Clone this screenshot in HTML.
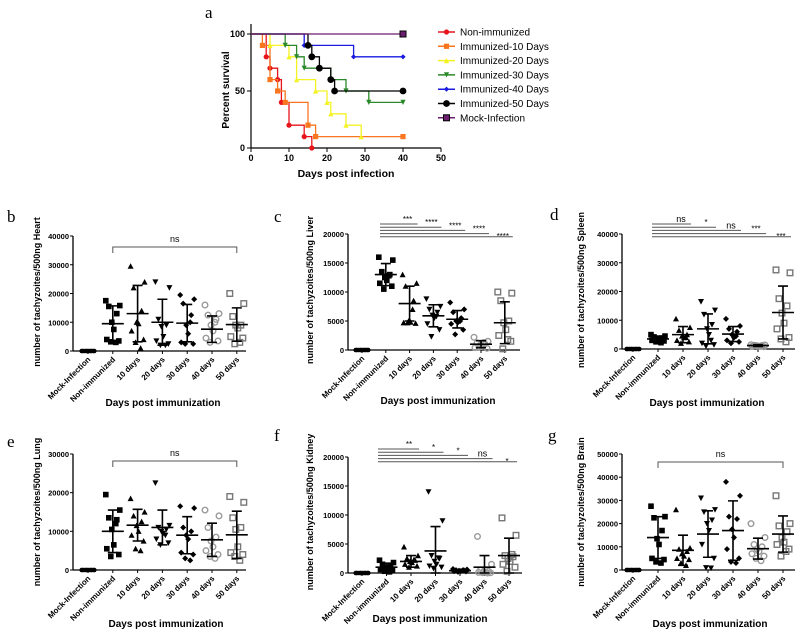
<!DOCTYPE html>
<html><head><meta charset="utf-8"><style>
body{margin:0;background:#fff}
svg{display:block;font-family:"Liberation Sans",sans-serif}
</style></head><body>
<svg id="fig" width="800" height="634" viewBox="0 0 800 634" xmlns="http://www.w3.org/2000/svg"></svg>
<script>
// ---------- Survival data (panel a) ----------
const survNames = ["Non-immunized","Immunized-10 Days","Immunized-20 Days","Immunized-30 Days","Immunized-40 Days","Immunized-50 Days","Mock-Infection"];
const survColors = ["#e8141b","#f7761f","#f5f224","#2a8a2a","#1a1ae0","#000000","#6b1f6e"];
const survDays = [
 [0,4,5,7,8,10,14,16],
 [0,3,5,7,9,15,17,40],
 [0,5,10,12,17,20,21,25,29],
 [0,9,12,14,21,25,31,40],
 [0,14,27,40],
 [0,15,16,18,21,22,40],
 [0,40]
];
const survPct = [
 [100,80,70,60,40,20,10,0],
 [100,90,60,50,40,20,10,10],
 [100,90,80,60,50,40,30,20,10],
 [100,90,80,70,60,50,40,40],
 [100,90,80,80],
 [100,90,80,70,60,50,50],
 [100,100]
];
const survXTicks = [0,10,20,30,40,50];
const survYTicks = [0,50,100];

// ---------- Scatter panels data ----------
const categories = ["Mock-Infection","Non-immunized","10 days","20 days","30 days","40 days","50 days"];
const heartMeans = [0,9500,13000,10000,9700,7600,9200];
const heartSds = [0,6200,9800,8000,6500,4600,5800];
const heartPts = [
 [0,0,0,0,0,0,0,0,0,0],
 [17500,15800,15500,13000,10000,7500,4000,3500,3200,3000],
 [29500,24000,22000,14000,10000,9500,7000,4000,3000,1000],
 [24000,22000,11000,9000,8500,5000,3500,2500,2000,2000],
 [19500,18000,16500,12500,9000,6000,3000,2500,2500,10000],
 [16000,13000,12500,11000,9000,7000,4500,3500,3000,10000],
 [20000,16500,12000,9000,9000,8000,5000,4500,2500,3000]];
const liverMeans = [0,13000,8000,5900,5300,1000,4700];
const liverSds = [0,1900,3000,1900,1500,600,3600];
const liverPts = [
 [0,0,0,0,0,0,0,0,0,0],
 [16000,15500,13500,13000,12500,12000,11500,11000,10500,12800],
 [13000,11500,11000,8500,5000,4800,4700,4600,4700,7000],
 [8800,7500,7000,6500,6000,5500,4500,3500,2300,5800],
 [8200,7000,6500,5500,5000,4800,4500,3500,2700,5000],
 [2200,1500,1200,1000,800,600,400,300,500,1300],
 [10000,9800,8500,5000,4700,3500,2500,1500,200,1800]];
const spleenMeans = [0,3500,5000,7000,5200,1200,12700];
const spleenSds = [0,1000,2800,5200,2600,300,9200];
const spleenPts = [
 [0,0,0,0,0,0,0,0,0,0],
 [5000,4500,4200,3800,3500,3200,3000,2800,2500,2200],
 [10500,7500,6500,5000,4500,4000,3000,2500,2000,4000],
 [16500,13500,12000,8500,7000,5000,2000,1500,1000,3000],
 [10500,8000,7000,6000,5000,4000,3000,2500,2000,4500],
 [1500,1400,1300,1200,1100,1000,900,800,1200,1000],
 [27500,26500,17500,15000,12500,9000,7000,4000,3500,2500]];
const lungMeans = [0,10000,11600,11000,9000,7800,9100];
const lungSds = [0,5500,4100,4500,4800,4300,6100];
const lungPts = [
 [0,0,0,0,0,0,0,0,0,0],
 [19500,15500,13500,13000,10500,6500,5500,4000,3500,12000],
 [18500,15000,14000,12500,11500,10000,9000,7500,5500,5000],
 [22500,11500,11000,10500,10000,9500,8000,7000,6500,9000],
 [16500,16000,11000,10000,9000,8000,4500,4000,3000,2500],
 [15500,14000,11000,8500,7500,6000,5000,4000,3500,3000],
 [19000,17500,13500,11000,10500,6000,4500,4000,3500,2500]];
const kidneyMeans = [0,1000,2000,3800,400,1000,3000];
const kidneySds = [0,700,1000,4200,200,2000,3000];
const kidneyPts = [
 [0,0,0,0,0,0,0,0,0,0],
 [2200,1800,1500,1200,1000,800,600,400,300,200],
 [4500,3000,2500,2200,2000,1800,1500,1200,1000,2300],
 [14000,9000,3000,2500,2000,1500,1200,1000,800,2600],
 [700,600,500,450,400,350,300,250,200,500],
 [6300,1500,500,300,200,100,100,50,50,0],
 [9500,6500,3000,2800,2500,2000,1500,1000,300,3200]];
const brainMeans = [0,14000,8500,15500,17000,9200,15500];
const brainSds = [0,9000,6500,10000,12800,4500,7800];
const brainPts = [
 [0,0,0,0,0,0,0,0,0,0],
 [27500,23000,22500,17000,13500,11000,5000,4500,3500,3000],
 [26000,9500,9000,8000,7000,6000,5000,4500,3000,2000],
 [31000,26000,25000,21500,20000,17000,11000,5000,1000,800],
 [38000,32000,23000,22000,17500,14000,9000,5000,3500,3000],
 [20000,14000,11000,10000,9000,8000,7000,6000,5000,4000],
 [32000,20000,19000,16500,14000,12000,11000,9000,6000,8000]];
const liverSig = ["***","****","****","****","****"];
const spleenSig = ["ns","*","ns","***","***"];
const kidneySig = ["**","*","*","ns","*"];

const NS="http://www.w3.org/2000/svg";
const svg=document.getElementById('fig');
function mk(tag,attrs,parent,text){const e=document.createElementNS(NS,tag);for(const k in attrs)e.setAttribute(k,attrs[k]);if(text!==undefined)e.textContent=text;(parent||svg).appendChild(e);return e;}

// ---------- Panel a ----------
(function(){
 const g=mk('g',{});
 
 
 const x0=251,x1=441,yT=34,yB=148;
 const sx=d=>x0+(d-0)/50*(x1-x0), sy=p=>yB-(p/100)*(yB-yT);
 const lt=mk('text',{x:205,y:18,'font-size':17,'font-family':'Liberation Serif,serif'},g,'a');
 
 mk('line',{x1:x0,y1:24,x2:x0,y2:yB,stroke:'#000','stroke-width':1.2},g);
 mk('line',{x1:x0,y1:yB,x2:x1,y2:yB,stroke:'#000','stroke-width':1.2},g);
 survXTicks.forEach(t=>{mk('line',{x1:sx(t),y1:yB,x2:sx(t),y2:yB+4,stroke:'#000'},g);
  const tt=mk('text',{x:sx(t),y:yB+13,'font-size':9,'font-weight':'bold','text-anchor':'middle'},g,t);
  });
 survYTicks.forEach(t=>{mk('line',{x1:x0-4,y1:sy(t),x2:x0,y2:sy(t),stroke:'#000'},g);
  const tt=mk('text',{x:x0-6,y:sy(t)+3,'font-size':9,'font-weight':'bold','text-anchor':'end'},g,t);
  });
 const yt=mk('text',{x:0,y:0,'font-size':10,'font-weight':'bold','text-anchor':'middle',transform:'translate(229,90) rotate(-90)'},g,'Percent survival');
 
 const xt=mk('text',{x:346,y:177,'font-size':10.5,'font-weight':'bold','text-anchor':'middle'},g,'Days post infection');
 
 survNames.forEach((n,i)=>{
  const d=survDays[i],p=survPct[i];let path='M'+sx(d[0])+','+sy(p[0]);
  for(let k=1;k<d.length;k++){path+=' H'+sx(d[k])+' V'+sy(p[k]);}
  const pl=mk('path',{d:path,fill:'none',stroke:survColors[i],'stroke-width':1.3},g);
  
  for(let k=1;k<d.length;k++)marker(g,i,sx(d[k]),sy(p[k]),2.6);
  const ly=32+i*14.3;
  mk('line',{x1:438,y1:ly,x2:455,y2:ly,stroke:survColors[i],'stroke-width':1.5},g);
  marker(g,i,446.5,ly,2.6);
  const lt2=mk('text',{x:460,y:ly+3.5,'font-size':10},g,n);
  
 });
 function marker(g,i,x,y,r){const c=survColors[i];let e;
  if(i==0||i==5)e=mk('circle',{cx:x,cy:y,r:i==5?3.4:r,fill:c},g);
  else if(i==1)e=mk('rect',{x:x-r,y:y-r,width:2*r,height:2*r,fill:c},g);
  else if(i==2)e=mk('path',{d:`M${x-r},${y+r}L${x+r},${y+r}L${x},${y-r}Z`,fill:c},g);
  else if(i==3)e=mk('path',{d:`M${x-r},${y-r}L${x+r},${y-r}L${x},${y+r}Z`,fill:c},g);
  else if(i==4)e=mk('path',{d:`M${x},${y-r}L${x+r},${y}L${x},${y+r}L${x-r},${y}Z`,fill:c},g);
  else e=mk('rect',{x:x-3,y:y-3,width:6,height:6,fill:'#6b1f6e',stroke:'#000','stroke-width':1},g);
  }
})();

// ---------- scatter panels ----------
const jitter=[-7,7,-4,4,-1,1,-6,6,-2,3];
function panel(cfg){
 const g=mk('g',{});
 
 
 const {ax,top,bot,max,step,c0,dc,xend}=cfg;
 const sy=v=>bot-(v/max)*(bot-top), sx=i=>c0+i*dc;
 const lt=mk('text',{x:cfg.lx,y:cfg.ly,'font-size':17,'font-family':'Liberation Serif,serif'},g,cfg.letter);
 
 mk('line',{x1:ax,y1:top,x2:ax,y2:bot,stroke:'#000','stroke-width':1.3},g);
 mk('line',{x1:ax,y1:bot,x2:xend,y2:bot,stroke:'#000','stroke-width':1.3},g);
 for(let v=0;v<=max;v+=step){
  mk('line',{x1:ax-3,y1:sy(v),x2:ax,y2:sy(v),stroke:'#000'},g);
  const t=mk('text',{x:ax-4,y:sy(v)+3,'font-size':7.5,'font-weight':'bold','text-anchor':'end'},g,v);
  
 }
 categories.forEach((c,i)=>{
  mk('line',{x1:sx(i),y1:bot,x2:sx(i),y2:bot+3,stroke:'#000'},g);
  const t=mk('text',{x:0,y:0,'font-size':8,'font-weight':'bold','text-anchor':'end',transform:`translate(${sx(i)+3},${bot+9}) rotate(-45)`},g,c);
  
 });
 const yt=mk('text',{x:0,y:0,'font-size':9,'font-weight':'bold','text-anchor':'middle',transform:`translate(${cfg.ylx},${cfg.yly}) rotate(-90)`},g,cfg.ylabel);
 
 const xt=mk('text',{x:cfg.tx,y:cfg.ty,'font-size':10,'font-weight':'bold','text-anchor':'middle'},g,'Days post immunization');
 
 cfg.pts.forEach((arr,i)=>{
  arr.forEach((v,k)=>{const x=sx(i)+jitter[k]*(i==0?0.9:1),y=sy(v);let e;
   if(i==0)e=mk('circle',{cx:x,cy:y,r:2.3,fill:'#000'},g);
   else if(i==1)e=mk('rect',{x:x-2.8,y:y-2.8,width:5.6,height:5.6,fill:'#000'},g);
   else if(i==2)e=mk('path',{d:`M${x-3},${y+2.6}L${x+3},${y+2.6}L${x},${y-3}Z`,fill:'#000'},g);
   else if(i==3)e=mk('path',{d:`M${x-3},${y-2.6}L${x+3},${y-2.6}L${x},${y+3}Z`,fill:'#000'},g);
   else if(i==4)e=mk('path',{d:`M${x},${y-3}L${x+3},${y}L${x},${y+3}L${x-3},${y}Z`,fill:'#000'},g);
   else if(i==5)e=mk('circle',{cx:x,cy:y,r:2.8,fill:'none',stroke:'#9a9a9a','stroke-width':1.4},g);
   else e=mk('rect',{x:x-2.8,y:y-2.8,width:5.6,height:5.6,fill:'none',stroke:'#777','stroke-width':1.4},g);
   
  });
 });
 cfg.means.forEach((m,i)=>{if(i==0)return;const s=cfg.sds[i],x=sx(i);
  const lo=Math.max(0,m-s),hi=m+s;
  const e=mk('path',{d:`M${x},${sy(lo)}V${sy(hi)} M${x-5},${sy(hi)}H${x+5} M${x-5},${sy(lo)}H${x+5} M${x-11},${sy(m)}H${x+11}`,stroke:'#000','stroke-width':1.6,fill:'none'},g);
  
 });
 if(cfg.bracket){const b=cfg.bracket;
  const e=mk('path',{d:`M${sx(1)},${b.y+6}V${b.y}H${sx(6)}V${b.y+6}`,stroke:'#555','stroke-width':1,fill:'none'},g);
  
  const t=mk('text',{x:(sx(1)+sx(6))/2,y:b.y-5,'font-size':9,'text-anchor':'middle'},g,'ns');
  
 }
 if(cfg.sig){const s=cfg.sig;
  cfg.sig.labels.forEach((lab,k)=>{const y=s.y0+k*3.2, xe=sx(k+2)+8;
   const l=mk('line',{x1:s.x0,y1:y,x2:xe,y2:y,stroke:'#555','stroke-width':1},g);
   
   const t=mk('text',{x:xe-10,y:(k==4?y+8:y-2)-(k==4?6:0),'font-size':lab=='ns'?9:8,'text-anchor':'middle'},g,lab);
   
  });
 }
}
panel({name:'heart-panel',letter:'b',lx:7,ly:222,ax:73,top:236,bot:351,max:40000,step:10000,c0:88,dc:24.8,xend:246,ylabel:'number of tachyzoites/500ng Heart',ylx:40,yly:292,tx:163,ty:406,means:heartMeans,sds:heartSds,pts:heartPts,bracket:{y:247}});
panel({name:'liver-panel',letter:'c',lx:274,ly:222,ax:348,top:234,bot:350,max:20000,step:5000,c0:362,dc:23.8,xend:520,ylabel:'number of tachyzoites/500ng Liver',ylx:313,yly:290,tx:438,ty:404,means:liverMeans,sds:liverSds,pts:liverPts,sig:{x0:380,y0:224,labels:liverSig}});
panel({name:'spleen-panel',letter:'d',lx:550,ly:220,ax:622,top:234,bot:349,max:40000,step:10000,c0:633,dc:25,xend:795,ylabel:'number of tachyzoites/500ng Spleen',ylx:584,yly:290,tx:707,ty:406,means:spleenMeans,sds:spleenSds,pts:spleenPts,sig:{x0:652,y0:224,labels:spleenSig}});
panel({name:'lung-panel',letter:'e',lx:7,ly:447,ax:73,top:454,bot:570,max:30000,step:10000,c0:88,dc:24.8,xend:246,ylabel:'number of tachyzoites/500ng Lung',ylx:40,yly:512,tx:166,ty:627,means:lungMeans,sds:lungSds,pts:lungPts,bracket:{y:461}});
panel({name:'kidney-panel',letter:'f',lx:274,ly:441,ax:348,top:457,bot:573,max:20000,step:5000,c0:362,dc:24.5,xend:522,ylabel:'number of tachyzoites/500ng Kidney',ylx:313,yly:512,tx:430,ty:622,means:kidneyMeans,sds:kidneySds,pts:kidneyPts,sig:{x0:378,y0:449,labels:kidneySig}});
panel({name:'brain-panel',letter:'g',lx:548,ly:441,ax:622,top:454,bot:570,max:50000,step:10000,c0:633,dc:25,xend:795,ylabel:'number of tachyzoites/500ng Brain',ylx:584,yly:512,tx:710,ty:627,means:brainMeans,sds:brainSds,pts:brainPts,bracket:{y:462}});
</script>
</body></html>
